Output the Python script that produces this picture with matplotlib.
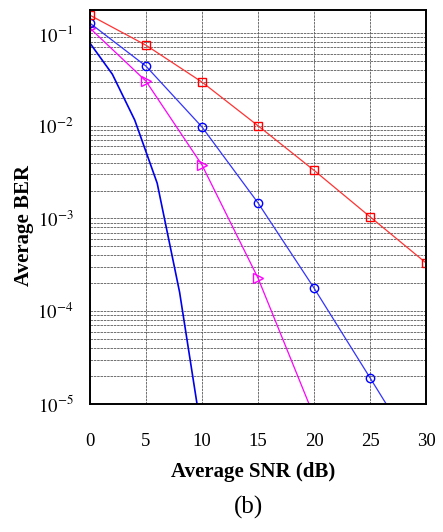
import matplotlib
matplotlib.use('Agg')
from matplotlib import pyplot as plt

# SNR points (dB)
snr = [0, 5, 10, 15, 20, 25, 30]
ber_square = [0.156, 0.074, 0.0296, 0.0100, 0.0033, 0.00104, 0.00033]
ber_circle = [0.128, 0.044, 0.0097, 0.00147, 1.77e-4, 1.9e-5, 2.0e-6]
ber_triangle = [0.113, 0.0303, 0.00377, 2.27e-4, 7.3e-6]
snr_triangle = [0, 5, 10, 15, 20]
# curve without markers
snr_curve = [0, 2, 4, 6, 8, 10]
ber_curve = [0.078, 0.036, 0.0115, 0.0024, 1.6e-4, 4.5e-6]

xticks = [0, 5, 10, 15, 20, 25, 30]
yticks = [1e-5, 1e-4, 1e-3, 1e-2, 1e-1]
ytick_labels = ['$10^{-5}$', '$10^{-4}$', '$10^{-3}$', '$10^{-2}$', '$10^{-1}$']

if __name__ == '__main__':
    plt.rcParams['font.family'] = ['Liberation Serif', 'DejaVu Serif']
    plt.rcParams['mathtext.fontset'] = 'stix'

    fig = plt.figure(figsize=(4.43, 5.32), dpi=100)
    ax = fig.add_axes([0.203, 0.241, 0.759, 0.740])

    ax.semilogy(snr_curve, ber_curve, color='#0000ee', lw=1.2)
    ax.semilogy(snr_triangle, ber_triangle, color='#ff00ff', lw=0.9,
                marker='>', ms=6.5, mfc='none', mec='#ff00ff')
    ax.semilogy(snr, ber_circle, color='#3333ff', lw=0.9,
                marker='o', ms=6, mfc='none', mec='#0000ff')
    ax.semilogy(snr, ber_square, color='#ff3333', lw=0.9,
                marker='s', ms=6, mfc='none', mec='#ff0000')

    ax.set_xlim(0, 30)
    ax.set_ylim(1e-5, 0.177)
    ax.set_xticks(xticks)
    ax.set_xticklabels([str(t) for t in xticks])
    ax.set_yticks(yticks)
    ax.set_yticklabels(ytick_labels)

    ax.grid(True, which='major', axis='x', color='0.35', lw=0.6, ls=(0, (3, 1)))
    ax.grid(True, which='both', axis='y', color='0.35', lw=0.6, ls=(0, (3, 1)))
    ax.tick_params(axis='both', which='both', length=0, labelsize=13.5)
    ax.tick_params(axis='x', pad=21)
    ax.tick_params(axis='y', pad=12)
    for s in ax.spines.values():
        s.set_linewidth(1.4)

    ax.text(0.485, -0.173, 'Average SNR (dB)', transform=ax.transAxes,
            fontsize=15, fontweight='bold', ha='center', va='center')
    ax.text(-0.196, 0.454, 'Average BER', transform=ax.transAxes, rotation=90,
            fontsize=15, fontweight='bold', ha='center', va='center')
    fig.text(0.562, 1 - 507 / 532, '(b)', fontsize=18, ha='center', va='center')

    plt.savefig('out.png', dpi=100)
